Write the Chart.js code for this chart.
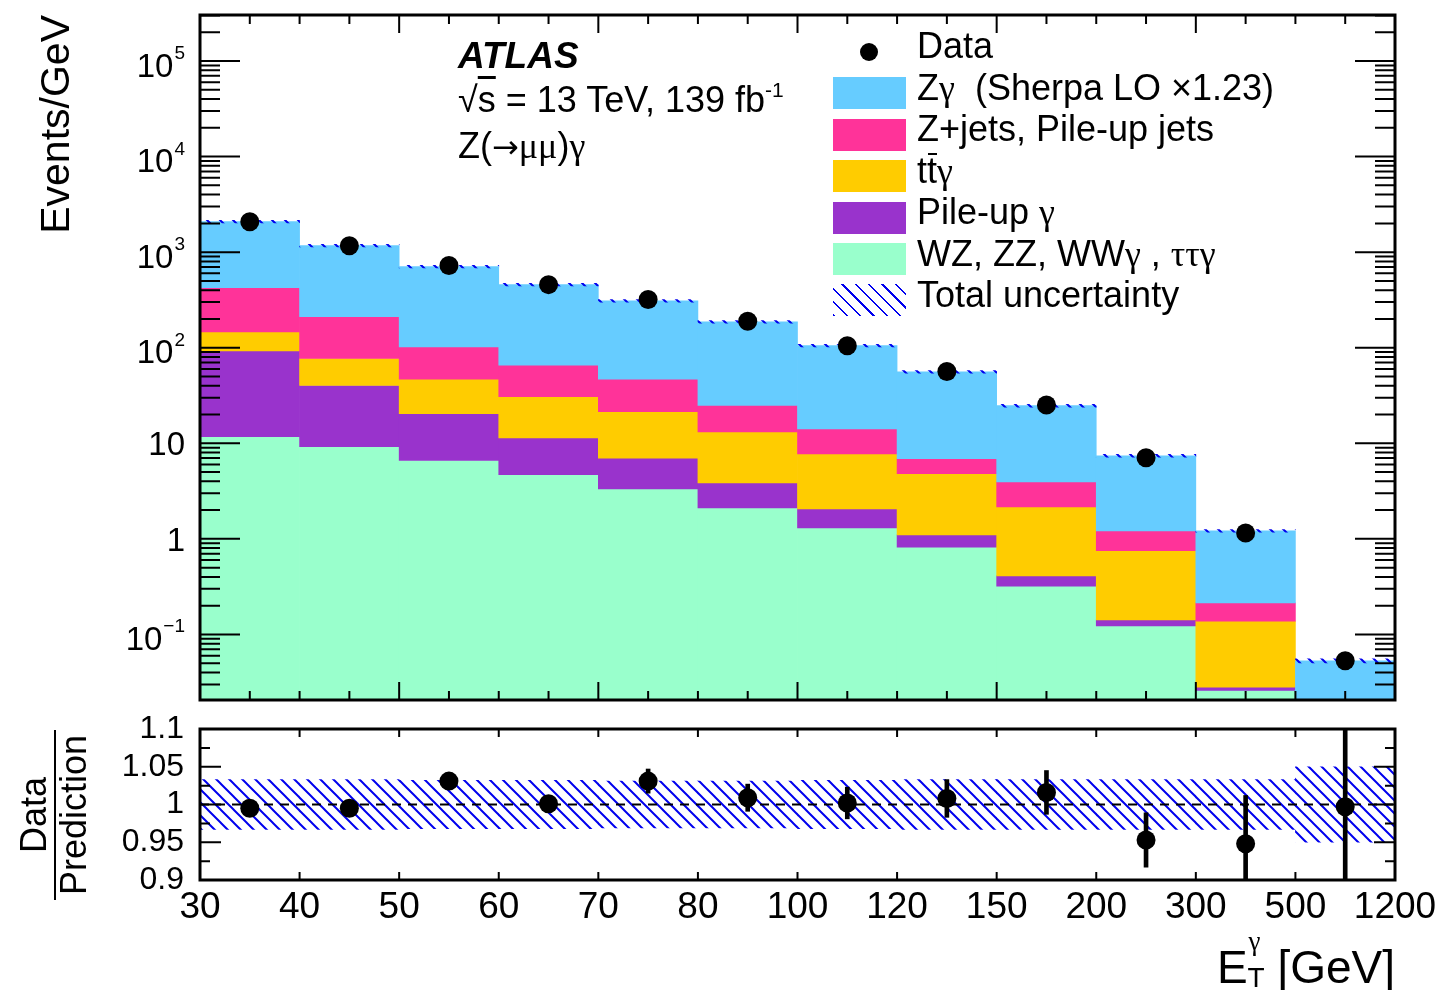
<!DOCTYPE html>
<html>
<head>
<meta charset="utf-8">
<title>Z(→μμ)γ photon transverse energy</title>
<script src="https://cdn.jsdelivr.net/npm/chart.js@4.4.1/dist/chart.umd.min.js"></script>
<style>
  html, body { margin: 0; padding: 0; background: #fff; }
  body { position: relative; width: 1444px; height: 990px; overflow: hidden;
         font-family: "Liberation Sans", Arial, sans-serif; color: #000; }
  canvas { position: absolute; left: 0; }
  #mainChart { top: 0; }
  #ratioChart { top: 693px; }
  .t { position: absolute; white-space: nowrap; line-height: 1; }
  .gr { font-family: "Liberation Serif", "DejaVu Serif", serif; }
  .lg { left: 917px; font-size: 36px; }
  .sw { position: absolute; left: 833px; width: 73px; height: 32px; }
</style>
</head>
<body>
<canvas id="mainChart" width="1444" height="710"></canvas>
<canvas id="ratioChart" width="1444" height="297"></canvas>

<!-- axis titles -->
<div class="t" style="left:35px;top:236px;width:221px;text-align:right;font-size:41px;transform-origin:0 0;transform:rotate(-90deg);">Events/GeV</div>
<div style="position:absolute;left:16px;top:900px;width:170px;text-align:center;font-size:36px;line-height:36px;transform-origin:0 0;transform:rotate(-90deg);">
  <div>Data</div>
  <div style="border-top:2px solid #000;margin-top:2px;">Prediction</div>
</div>
<div class="t" style="right:49px;top:944px;font-size:46px;">E<span style="display:inline-block;position:relative;width:17px;height:30px;"><span class="gr" style="position:absolute;left:1px;top:-25px;font-size:27px;line-height:1;">γ</span><span style="position:absolute;left:0;top:11px;font-size:28px;line-height:1;">T</span></span> [GeV]</div>

<!-- ATLAS label -->
<div class="t" style="left:458px;top:37px;font-size:37px;font-weight:bold;font-style:italic;">ATLAS</div>
<div class="t" style="left:458px;top:82px;font-size:36px;">√<span style="text-decoration:overline;">s</span> = 13 TeV, 139 fb<span style="font-size:21px;position:relative;top:-15px;">-1</span></div>
<div class="t" style="left:458px;top:128px;font-size:36px;">Z(<span style="font-family:'DejaVu Sans';font-size:32px;">→</span><span class="gr">μμ</span>)<span class="gr">γ</span></div>

<!-- legend -->
<div style="position:absolute;left:860px;top:43px;width:18px;height:18px;border-radius:50%;background:#000;"></div>
<div class="t lg" style="top:28px;">Data</div>
<div class="sw" style="top:77px;background:#66ccff;"></div>
<div class="t lg" style="top:70px;">Z<span class="gr">γ</span>&nbsp; (Sherpa LO ×1.23)</div>
<div class="sw" style="top:119px;background:#ff3399;"></div>
<div class="t lg" style="top:111px;">Z+jets, Pile-up jets</div>
<div class="sw" style="top:160px;background:#ffcc00;"></div>
<div class="t lg" style="top:153px;">t<span style="position:relative;">t<span style="position:absolute;left:1px;right:0;top:3px;border-top:2px solid #000;"></span></span><span class="gr">γ</span></div>
<div class="sw" style="top:202px;background:#9933cc;"></div>
<div class="t lg" style="top:194px;">Pile-up <span class="gr">γ</span></div>
<div class="sw" style="top:243px;background:#99ffcc;"></div>
<div class="t lg" style="top:236px;">WZ, ZZ, WW<span class="gr">γ</span> , <span class="gr">ττγ</span></div>
<div class="sw" style="top:284px;background:repeating-linear-gradient(45deg,#0000ee 0 1.6px,transparent 1.6px 9.4px);"></div>
<div class="t lg" style="top:277px;">Total uncertainty</div>

<script>
// bins of photon E_T (GeV), shown with equal width
const binEdges = ['30', '40', '50', '60', '70', '80', '100', '120', '150', '200', '300', '500', '1200'];

// events / GeV
const dataEvents  = [2080, 1165, 725, 457, 320, 189, 105, 56.5, 25.1, 7.05, 1.15, 0.053];
const zgamma      = [1664, 959, 603, 391, 263, 162, 91, 49, 20.8, 6.2, 1.0, 0.032];
const zjets       = [279, 134, 55, 35, 25.6, 11.8, 6.4, 2.1, 1.79, 0.46, 0.076, 0.0005];
const ttgamma     = [54, 37, 26.6, 19.3, 14.4, 9.3, 5.7, 3.7, 1.75, 0.61, 0.110, 0.001];
const pileupGamma = [81, 31, 13.8, 6.7, 3.66, 1.75, 0.76, 0.28, 0.09, 0.019, 0.002, 0.0005];
const dibosonEtc  = [11.7, 9.2, 6.6, 4.7, 3.34, 2.11, 1.30, 0.82, 0.32, 0.123, 0.026, 0.019];

// relative total uncertainty of the prediction
const relUncertainty = [0.033, 0.033, 0.032, 0.032, 0.031, 0.031, 0.032, 0.033, 0.033, 0.033, 0.033, 0.05];

// data / prediction
const ratioValues = [0.995, 0.995, 1.031, 1.001, 1.031, 1.009, 1.002, 1.008, 1.016, 0.953, 0.948, 0.997];
const ratioErrors = [0.003, 0.004, 0.006, 0.011, 0.016, 0.018, 0.021, 0.025, 0.029, 0.036, 0.064, 0.25];

// axis ranges and tick labels
const yMin = 0.0206, yMax = 3.03e5;
const yFloor = 1e-4;   // stack starts below the visible range (log axis has no zero)
const yDecades = [-1, 0, 1, 2, 3, 4, 5];
const ratioMin = 0.9, ratioMax = 1.1;

Chart.defaults.font.family = '"Liberation Sans", Arial, sans-serif';
Chart.defaults.color = '#000';

const hatchFill = (() => {
  const c = document.createElement('canvas');
  c.width = 13; c.height = 13;
  const g = c.getContext('2d');
  g.strokeStyle = '#0000ee';
  g.lineWidth = 2;
  g.beginPath();
  g.moveTo(-1, -1); g.lineTo(14, 14);
  g.moveTo(-1, 12); g.lineTo(1, 14);
  g.moveTo(12, -1); g.lineTo(14, 1);
  g.stroke();
  return g.createPattern(c, 'repeat');
})();

// ROOT-like frame with inward ticks
function rootAxes(xTicks, yTicks, drawLabels) {
  return {
    id: 'rootAxes',
    afterDatasetsDraw(chart) {
      const {ctx, chartArea: a, scales: {x, y}} = chart;
      ctx.save();
      ctx.strokeStyle = '#000';
      ctx.lineWidth = 2;
      ctx.beginPath();
      xTicks.forEach(([v, len]) => {
        const px = x.getPixelForValue(v);
        ctx.moveTo(px, a.bottom); ctx.lineTo(px, a.bottom - len);
        ctx.moveTo(px, a.top); ctx.lineTo(px, a.top + len);
      });
      yTicks.forEach(([v, len]) => {
        const py = y.getPixelForValue(v);
        ctx.moveTo(a.left, py); ctx.lineTo(a.left + len, py);
        ctx.moveTo(a.right, py); ctx.lineTo(a.right - len, py);
      });
      ctx.stroke();
      ctx.lineWidth = 3;
      ctx.strokeRect(a.left, a.top, a.right - a.left, a.bottom - a.top);
      ctx.restore();
      if (drawLabels) drawLabels(chart);
    }
  };
}

function drawLogLabels(chart) {
  const {ctx, chartArea: a, scales: {y}} = chart;
  const right = a.left - 15;
  ctx.save();
  ctx.fillStyle = '#000';
  ctx.textAlign = 'right';
  ctx.textBaseline = 'alphabetic';
  yDecades.forEach(e => {
    const py = y.getPixelForValue(Math.pow(10, e));
    if (e === 0 || e === 1) {
      ctx.font = '33px "Liberation Sans"';
      ctx.fillText(e === 0 ? '1' : '10', right, py + 12);
    } else {
      const sup = e < 0 ? '\u2212' + (-e) : String(e);
      ctx.font = '19px "Liberation Sans"';
      const w = ctx.measureText(sup).width;
      ctx.fillText(sup, right, py - 2);
      ctx.font = '33px "Liberation Sans"';
      ctx.fillText('10', right - w - 1, py + 15.5);
    }
  });
  ctx.restore();
}

// ---- main panel ----
const stackLayers = [
  {values: dibosonEtc, color: '#99ffcc'},
  {values: pileupGamma, color: '#9933cc'},
  {values: ttgamma, color: '#ffcc00'},
  {values: zjets, color: '#ff3399'},
  {values: zgamma, color: '#66ccff'}
];

let totals = dataEvents.map(() => 0);
const stackSets = stackLayers.map((layer, k) => {
  const ds = {
    type: 'bar',
    data: layer.values.map((v, i) => ({x: i + 0.5, y: [Math.max(totals[i], yFloor), totals[i] + v]})),
    backgroundColor: layer.color,
    borderWidth: 0,
    grouped: false,
    barPercentage: 1,
    categoryPercentage: 1,
    clip: 0,
    order: 10 - k
  };
  totals = totals.map((t, i) => t + layer.values[i]);
  return ds;
});

const mainXTicks = [];
for (let v = 0.5; v < 12; v += 0.5) mainXTicks.push([v, v % 2 === 0 ? 18 : 9]);
const mainYTicks = [];
for (let e = -2; e <= 5; e++) {
  for (let m = 1; m <= 9; m++) {
    const v = m * Math.pow(10, e);
    if (v > yMin && v < yMax) mainYTicks.push([v, m === 1 ? 40 : 20]);
  }
}

new Chart(document.getElementById('mainChart'), {
  type: 'bar',
  data: {
    datasets: [
      {
        type: 'line',
        data: dataEvents.map((v, i) => ({x: i + 0.5, y: v})),
        showLine: false,
        pointRadius: 9.5,
        pointBorderWidth: 0,
        backgroundColor: '#000',
        borderColor: '#000',
        order: 0
      },
      {
        type: 'bar',
        data: totals.map((t, i) => ({x: i + 0.5, y: [t * (1 - relUncertainty[i]), t * (1 + relUncertainty[i])]})),
        backgroundColor: hatchFill,
        borderWidth: 0,
        grouped: false,
        barPercentage: 1,
        categoryPercentage: 1,
        clip: 0,
        order: 1
      },
      ...stackSets
    ]
  },
  options: {
    responsive: false,
    animation: false,
    events: [],
    layout: {padding: {left: 200, right: 49, top: 15, bottom: 10}},
    plugins: {legend: {display: false}, tooltip: {enabled: false}},
    scales: {
      x: {type: 'linear', min: 0, max: 12, offset: false, display: false, ticks: {stepSize: 1}},
      y: {type: 'logarithmic', min: yMin, max: yMax, display: false}
    }
  },
  plugins: [rootAxes(mainXTicks, mainYTicks, drawLogLabels)]
});

// ---- ratio panel ----
const ratioXTicks = [];
for (let v = 1; v < 12; v++) ratioXTicks.push([v, 8]);
const ratioYTicks = [];
for (let i = 1; i < 8; i++) ratioYTicks.push([ratioMin + 0.025 * i, i % 2 === 0 ? 21 : 10]);

new Chart(document.getElementById('ratioChart'), {
  type: 'bar',
  data: {
    datasets: [
      {
        type: 'line',
        data: ratioValues.map((v, i) => ({x: i + 0.5, y: v})),
        showLine: false,
        pointRadius: 9.5,
        pointBorderWidth: 0,
        backgroundColor: '#000',
        borderColor: '#000',
        order: 0
      },
      {
        type: 'bar',
        data: ratioValues.map((v, i) => ({x: i + 0.5, y: [v - ratioErrors[i], v + ratioErrors[i]]})),
        backgroundColor: '#000',
        borderWidth: 0,
        grouped: false,
        barPercentage: 1,
        categoryPercentage: 1,
        maxBarThickness: 4,
        clip: 0,
        order: 1
      },
      {
        type: 'line',
        data: [{x: 0, y: 1}, {x: 12, y: 1}],
        borderColor: '#000',
        borderWidth: 2,
        borderDash: [9, 7],
        pointRadius: 0,
        order: 2
      },
      {
        type: 'bar',
        data: relUncertainty.map((u, i) => ({x: i + 0.5, y: [1 - u, 1 + u]})),
        backgroundColor: hatchFill,
        borderWidth: 0,
        grouped: false,
        barPercentage: 1,
        categoryPercentage: 1,
        clip: 0,
        order: 3
      }
    ]
  },
  options: {
    responsive: false,
    animation: false,
    events: [],
    layout: {padding: {left: 0, right: 49, top: 36, bottom: 0}},
    plugins: {legend: {display: false}, tooltip: {enabled: false}},
    scales: {
      x: {
        type: 'linear', min: 0, max: 12, offset: false,
        grid: {display: false, drawTicks: false}, border: {display: false},
        ticks: {stepSize: 1, autoSkip: false, maxRotation: 0, padding: 6, color: '#000', font: {size: 37},
                callback: v => binEdges[Math.round(v)]},
        afterFit: s => { s.height = 110; }
      },
      y: {
        type: 'linear', min: ratioMin, max: ratioMax,
        grid: {display: false, drawTicks: false}, border: {display: false},
        ticks: {stepSize: 0.05, autoSkip: false, padding: 16, color: '#000', font: {size: 32},
                callback: v => String(+v.toFixed(2))},
        afterFit: s => { s.width = 200; }
      }
    }
  },
  plugins: [rootAxes(ratioXTicks, ratioYTicks, null)]
});
</script>
</body>
</html>
